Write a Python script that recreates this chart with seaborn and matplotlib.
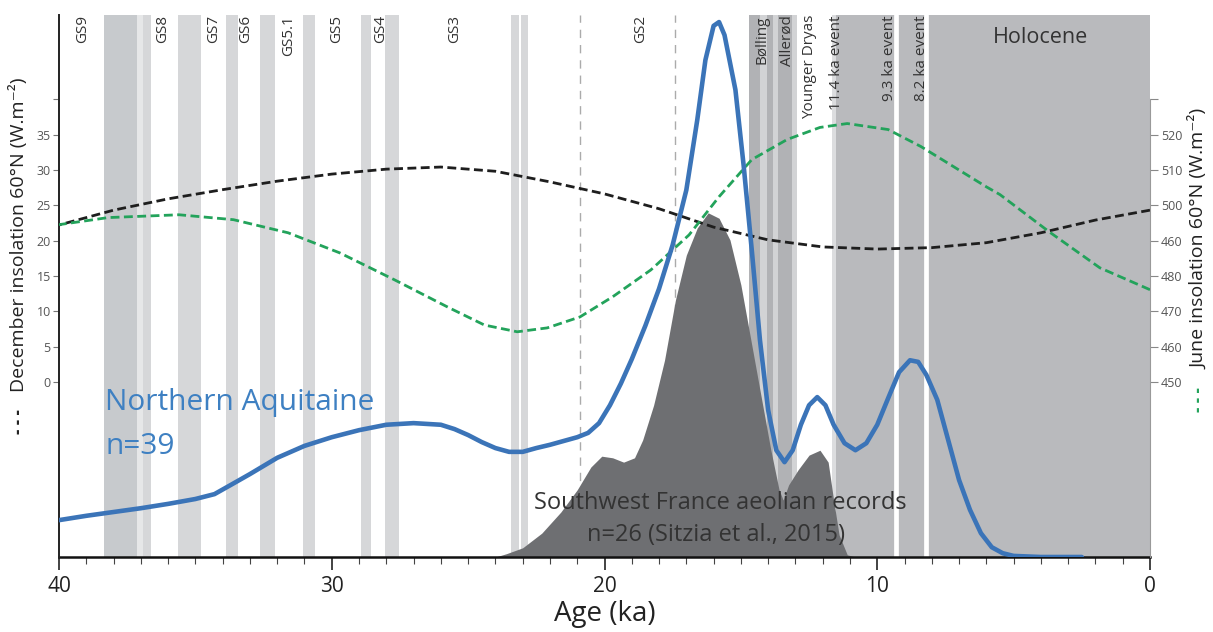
import numpy as np
import pandas as pd
import matplotlib
matplotlib.use("Agg")
import matplotlib.pyplot as plt
from matplotlib.ticker import MultipleLocator, FixedLocator
import seaborn as sns

sns.set_theme(style="white")
plt.rcParams["font.family"] = ["Open Sans", "DejaVu Sans"]

# ---------------------------------------------------------------- data
# December insolation at 60°N (W.m-2)
dec_age = [40, 38, 36, 34, 32, 30, 28, 26, 24, 22, 20, 18, 16, 14, 12, 10, 8, 6, 4, 2, 0]
dec_val = [22.2, 24.3, 25.9, 27.2, 28.4, 29.4, 30.1, 30.4, 29.8, 28.3, 26.6, 24.5,
           21.9, 20.1, 19.1, 18.8, 19.0, 19.7, 21.1, 22.9, 24.3]

# June insolation at 60°N (W.m-2)
jun_age = [40, 38.2, 35.6, 33.6, 31.6, 29.7, 27.7, 25.7, 24.4, 23.2, 22.1, 20.9, 19.7,
           18.3, 16.9, 15.8, 14.6, 13.3, 12.1, 11.1, 9.6, 8.4, 7.2, 6.0, 5.5, 3.7, 1.84,
           0.0]
jun_val = [494.5, 496.5, 497.3, 495.9, 492.2, 486.5, 478.9, 471.0, 466.1, 464.2, 465.3,
           468.4, 474.1, 481.7, 491.6, 502.4, 512.9, 518.6, 522.0, 523.1, 521.4, 516.6,
           510.9, 505.2, 503.0, 492.5, 482.3, 476.1]

# Northern Aquitaine ages: relative probability density (n=39)
na_age = [40, 39, 38, 37, 36, 35, 34.3, 33.7, 33, 32, 31, 30, 29, 28, 27, 26, 25.5, 25,
          24.5, 24, 23.5, 23, 22.5, 22, 21.5, 21, 20.6, 20.2, 19.8, 19.4, 19, 18.5, 18,
          17.5, 17, 16.6, 16.3, 16.0, 15.8, 15.6, 15.2, 14.9, 14.6, 14.3, 14.0, 13.7,
          13.4, 13.1, 12.8, 12.5, 12.2, 11.9, 11.6, 11.2, 10.8, 10.4, 10.0, 9.6, 9.2,
          8.8, 8.5, 8.2, 7.8, 7.4, 7.0, 6.6, 6.2, 5.8, 5.4, 5.0, 4.0, 3.0, 2.5]
na_val = [0.068, 0.076, 0.083, 0.090, 0.098, 0.107, 0.116, 0.133, 0.153, 0.183, 0.205,
          0.221, 0.234, 0.244, 0.247, 0.244, 0.236, 0.225, 0.212, 0.201, 0.194, 0.194,
          0.201, 0.207, 0.214, 0.221, 0.229, 0.247, 0.280, 0.320, 0.365, 0.427, 0.495,
          0.576, 0.677, 0.806, 0.917, 0.980, 0.987, 0.963, 0.862, 0.723, 0.566, 0.400,
          0.271, 0.197, 0.175, 0.197, 0.244, 0.280, 0.295, 0.280, 0.244, 0.210, 0.197,
          0.210, 0.244, 0.293, 0.341, 0.363, 0.360, 0.336, 0.290, 0.216, 0.142, 0.087,
          0.044, 0.018, 0.007, 0.002, 0.0, 0.0, 0.0]

# Southwest France aeolian records: relative probability density (n=26)
sw_age = [24.0, 23.6, 23.0, 22.3, 21.6, 21.0, 20.5, 20.1, 19.7, 19.3, 18.9, 18.6, 18.2,
          17.8, 17.4, 17.0, 16.6, 16.2, 15.8, 15.4, 15.0, 14.6, 14.2, 13.9, 13.6, 13.45,
          13.25, 12.9, 12.5, 12.1, 11.8, 11.6, 11.4, 11.1, 10.8]
sw_val = [0.0, 0.006, 0.017, 0.044, 0.083, 0.124, 0.166, 0.186, 0.183, 0.175, 0.183,
          0.216, 0.280, 0.363, 0.474, 0.557, 0.607, 0.635, 0.625, 0.585, 0.502, 0.391,
          0.280, 0.197, 0.124, 0.105, 0.133, 0.161, 0.188, 0.197, 0.175, 0.105, 0.041,
          0.004, 0.0]

# Greenland stadials (older, younger bound, ka)
gs_bands = [(38.35, 37.15), (36.92, 36.62), (35.64, 34.78), (33.88, 33.45),
            (32.62, 32.07), (31.04, 30.61), (28.93, 28.56), (28.05, 27.55),
            (23.43, 23.14), (23.06, 22.80)]
gs_labels = ["GS9", "GS8", "GS7", "GS6", "GS5.1", "GS5", "GS4", "GS3", "GS2"]
gs_label_age = [39.12, 36.19, 34.32, 33.15, 31.57, 29.81, 28.20, 25.48, 18.67]
gs2_bounds = [20.9, 17.4]

# Late glacial / Holocene periods
ba_block = (14.72, 12.95)
ba_light = [(14.30, 14.05), (13.83, 13.64), (13.13, 12.95)]
holocene_start = 11.5
event_11_4 = (11.66, 11.5)
event_lines = [9.3, 8.2]
late_labels = ["Bølling", "Allerød", "Younger Dryas", "11.4 ka event",
               "9.3 ka event", "8.2 ka event"]
late_label_age = [14.23, 13.31, 12.47, 11.48, 9.54, 8.37]

dec_ticks = [0, 5, 10, 15, 20, 25, 30, 35, 40]
dec_ticklabels = ["0", "5", "10", "15", "20", "25", "30", "35", ""]
jun_ticks = [450, 460, 470, 480, 490, 500, 510, 520, 530]
jun_ticklabels = ["450", "460", "470", "480", "460", "500", "510", "520", ""]
age_ticks = [40, 30, 20, 10, 0]

dec_df = pd.DataFrame({"age": dec_age, "insolation": dec_val})
jun_df = pd.DataFrame({"age": jun_age, "insolation": jun_val})
na_df = pd.DataFrame({"age": na_age, "density": na_val})
sw_df = pd.DataFrame({"age": sw_age, "density": sw_val})

# ---------------------------------------------------------------- figure
W, H = 1213, 632
fig = plt.figure(figsize=(W / 100, H / 100), dpi=100)
x0, x1, y_bot, y_top = 59, 1150, 557, 15
rect = [x0 / W, 1 - y_bot / H, (x1 - x0) / W, (y_bot - y_top) / H]

ax = fig.add_axes(rect)              # bands, aeolian density, age axis
ax_dec = ax.twinx()                  # December insolation (left scale)
ax_jun = ax.twinx()                  # June insolation (right scale)
ax_na = ax.twinx()                   # Northern Aquitaine density

ax.set_xlim(40, 0)
ax.set_ylim(0, 1)
ax_na.set_ylim(0, 1)
ax_dec.set_ylim(-24.75, 51.9)
ax_jun.set_ylim(400.5, 553.8)

# background periods
for i, (a, b) in enumerate(gs_bands):
    ax.axvspan(a, b, color="#c7cacd" if i == 0 else "#d6d7d9", lw=0, zorder=0)
ax.axvspan(37.15, 36.92, color="#e6e7e8", lw=0, zorder=0)
ax.axvspan(*ba_block, color="#b1b2b5", lw=0, zorder=0)
for a, b in ba_light:
    ax.axvspan(a, b, color="#d2d3d5", lw=0, zorder=0)
ax.axvspan(holocene_start, 0, color="#b9babd", lw=0, zorder=0)
ax.axvspan(*event_11_4, color="#dcdddf", lw=0, zorder=0)
for e in event_lines:
    ax.axvline(e, color="white", lw=3.4, zorder=0.5)
for g in gs2_bounds:
    ax.axvline(g, color="#ababab", lw=1.0, dashes=(6, 5), zorder=0.6)

# aeolian records density
ax.fill_between(sw_df["age"], 0, sw_df["density"], color="#6e6f72", lw=0, zorder=2)

# insolation curves
sns.lineplot(data=dec_df, x="age", y="insolation", ax=ax_dec, color="#1e1e1e",
             lw=2.0, linestyle=(0, (3.2, 1.6)), zorder=3)
sns.lineplot(data=jun_df, x="age", y="insolation", ax=ax_jun, color="#23a35b",
             lw=2.0, linestyle=(0, (3.2, 1.6)), zorder=3)

# Northern Aquitaine density
sns.lineplot(data=na_df, x="age", y="density", ax=ax_na, color="#3b74b8",
             lw=3.3, zorder=4)

# ---------------------------------------------------------------- axes styling
for a in (ax, ax_dec, ax_jun, ax_na):
    for s in a.spines.values():
        s.set_visible(False)
    a.set_xlabel("")
    a.set_ylabel("")

ax.spines["bottom"].set_visible(True)
ax.spines["bottom"].set_color("#111111")
ax.spines["bottom"].set_linewidth(1.8)
ax.xaxis.set_major_locator(FixedLocator(age_ticks))
ax.xaxis.set_minor_locator(MultipleLocator(1))
ax.tick_params(axis="x", which="major", bottom=True, length=9, width=1.2,
               color="#222222", labelsize=15, labelcolor="#222222", pad=5)
ax.tick_params(axis="x", which="minor", bottom=True, length=5, width=0.8,
               color="#444444")
ax.set_yticks([])
ax.set_xlabel("Age (ka)", fontsize=20, color="#222222", labelpad=2)

ax_dec.yaxis.tick_left()
ax_dec.spines["left"].set_visible(True)
ax_dec.spines["left"].set_color("#222222")
ax_dec.spines["left"].set_linewidth(1.4)
ax_dec.set_yticks(dec_ticks)
ax_dec.set_yticklabels(dec_ticklabels)
ax_dec.tick_params(axis="y", left=True, right=False, length=4, width=0.8,
                   color="#777777", labelsize=9, labelcolor="#555555", pad=2)

ax_jun.spines["right"].set_visible(True)
ax_jun.spines["right"].set_color("#999999")
ax_jun.spines["right"].set_linewidth(0.8)
ax_jun.spines["right"].set_bounds(400.5, 530)
ax_jun.set_yticks(jun_ticks)
ax_jun.set_yticklabels(jun_ticklabels)
ax_jun.tick_params(axis="y", right=True, left=False, length=6, width=0.8,
                   color="#888888", labelsize=9, labelcolor="#555555", pad=2)

ax_na.set_yticks([])
for a in (ax_dec, ax_jun, ax_na):
    a.tick_params(axis="x", which="both", bottom=False, labelbottom=False)

# ---------------------------------------------------------------- labels
tr = ax_na.get_xaxis_transform()
for lab, age in zip(gs_labels + late_labels, gs_label_age + late_label_age):
    ax_na.text(age, 1.0, lab, transform=tr, rotation=90, ha="center", va="top",
               fontsize=11, color="#333333", zorder=6)
ax_na.text(4.0, 0.958, "Holocene", transform=tr, ha="center", va="center",
           fontsize=15.5, color="#333333")

ax_na.text(38.3, 0.272, "Northern Aquitaine", transform=tr, ha="left",
           va="baseline", fontsize=21.5, color="#3e80c2")
ax_na.text(38.3, 0.190, "n=39", transform=tr, ha="left", va="baseline",
           fontsize=21.5, color="#3e80c2")

ax_na.text(15.75, 0.0996, "Southwest France aeolian records", transform=tr,
           ha="center", va="center", fontsize=17, color="#333333", zorder=6)
ax_na.text(15.9, 0.041, "n=26 (Sitzia et al., 2015)", transform=tr,
           ha="center", va="center", fontsize=17, color="#333333", zorder=6)

# axis titles with their line keys
fig.text(19 / W, 1 - 392 / H, "December insolation 60°N (W.m⁻²)", rotation=90,
         ha="center", va="bottom", fontsize=14, color="#222222")
fig.text(19 / W, 1 - 434 / H, "- - -", rotation=90, ha="center", va="bottom",
         fontsize=12, fontweight="bold", color="#222222")
fig.text(1199 / W, 1 - 369 / H, "June insolation 60°N (W.m⁻²)", rotation=90,
         ha="center", va="bottom", fontsize=14, color="#222222")
fig.text(1199 / W, 1 - 412 / H, "- - -", rotation=90, ha="center", va="bottom",
         fontsize=12, fontweight="bold", color="#23a35b")

fig.savefig("out.png", dpi=100)
